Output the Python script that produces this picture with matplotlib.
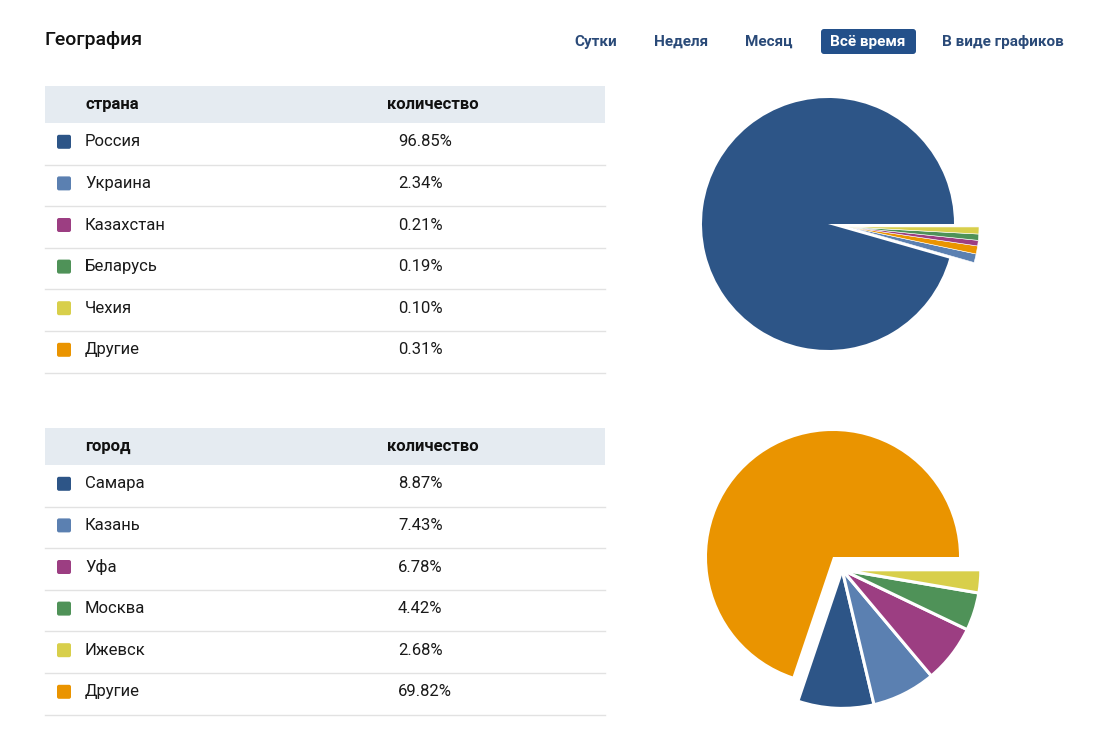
import numpy as np
import matplotlib
matplotlib.use('Agg')
import matplotlib.pyplot as plt
from matplotlib.patches import Rectangle, FancyBboxPatch

plt.rcParams['font.family'] = ['Roboto', 'DejaVu Sans']

# data
countries = ['Россия', 'Украина', 'Казахстан', 'Беларусь', 'Чехия', 'Другие']
country_pct = [96.85, 2.34, 0.21, 0.19, 0.10, 0.31]
# slice sizes as drawn in the country pie (small slices are drawn enlarged)
country_pie_share = [95.6, 1.08, 0.69, 0.78, 0.87, 1.0]
cities = ['Самара', 'Казань', 'Уфа', 'Москва', 'Ижевск', 'Другие']
city_pct = [8.87, 7.43, 6.78, 4.42, 2.68, 69.82]
tabs = ['Сутки', 'Неделя', 'Месяц', 'Всё время', 'В виде графиков']
active_tab = 'Всё время'

colors = ['#2d5587', '#5b80b1', '#9c3e82', '#4f9258', '#d8cf4b', '#ea9400']
navy = '#2a4a78'

W, H = 1095, 735
fig = plt.figure(figsize=(W / 100, H / 100), dpi=100)
fig.patch.set_facecolor('white')

# page axes in pixel coords
ax = fig.add_axes([0, 0, 1, 1])
ax.set_xlim(0, W)
ax.set_ylim(H, 0)
ax.axis('off')

ax.text(45, 40, 'География', fontsize=14, weight='medium', color='#111111', va='center', ha='left')

tab_x = [574, 654, 745, 830, 942]
for tx, t in zip(tab_x, tabs):
    if t == active_tab:
        ax.add_patch(FancyBboxPatch((821, 29), 95, 25, boxstyle='round,pad=0,rounding_size=3',
                                    fc='#23508a', ec='none'))
        ax.text(tx, 41.5, t, fontsize=11, weight='bold', color='white', va='center', ha='left')
    else:
        ax.text(tx, 41.5, t, fontsize=11, weight='bold', color=navy, va='center', ha='left')


def draw_table(top, head, names, vals):
    ax.add_patch(Rectangle((45, top), 560, 37, fc='#e5ebf1', ec='none'))
    ax.text(85, top + 18.5, head, fontsize=12, weight='bold', color='#111111', va='center')
    ax.text(387, top + 18.5, 'количество', fontsize=12, weight='bold', color='#111111', va='center')
    row_h = 41.6
    for i, (n, v) in enumerate(zip(names, vals)):
        cy = top + 37 + row_h * i + row_h / 2 - 2
        ax.add_patch(FancyBboxPatch((57, cy - 7), 14, 14, boxstyle='round,pad=0,rounding_size=2',
                                    fc=colors[i], ec='none'))
        ax.text(85, cy, n, fontsize=12, color='#1a1a1a', va='center')
        ax.text(398, cy, f'{v:.2f}%', fontsize=12, color='#1a1a1a', va='center')
        ly = top + 37 + row_h * (i + 1)
        ax.plot([45, 605], [ly, ly], color='#e2e2e2', lw=1)


draw_table(86, 'страна', countries, country_pct)
draw_table(428, 'город', cities, city_pct)


def draw_pie(cx, cy, order_vals, sizes, pull, r_small, lw, r=126, lim=1.45):
    order = sorted(range(len(order_vals)), key=lambda i: -order_vals[i])
    v = [sizes[i] for i in order]
    c = [colors[i] for i in order]
    size = 2 * lim * r
    pa = fig.add_axes([(cx - lim * r) / W, (H - cy - lim * r) / H, size / W, size / H])
    wedges, _ = pa.pie(v, colors=c, startangle=0, counterclock=True, radius=1,
                       wedgeprops=dict(edgecolor='white', linewidth=lw))
    wedges[0].set_linewidth(0)
    # small slices pulled out together
    small = wedges[1:]
    mid = np.deg2rad((small[0].theta1 + small[-1].theta2) / 2)
    for w in small:
        w.set_center((pull * np.cos(mid), pull * np.sin(mid)))
        w.set_radius(r_small)
    pa.set_xlim(-lim, lim)
    pa.set_ylim(-lim, lim)
    pa.set_aspect('equal')
    pa.axis('off')


draw_pie(828, 224, country_pct, country_pie_share, 0.17, 1.03, 0.4)
draw_pie(833, 557, city_pct, city_pct, 0.125, 1.1, 2.2)

fig.savefig('out.png', dpi=100)
